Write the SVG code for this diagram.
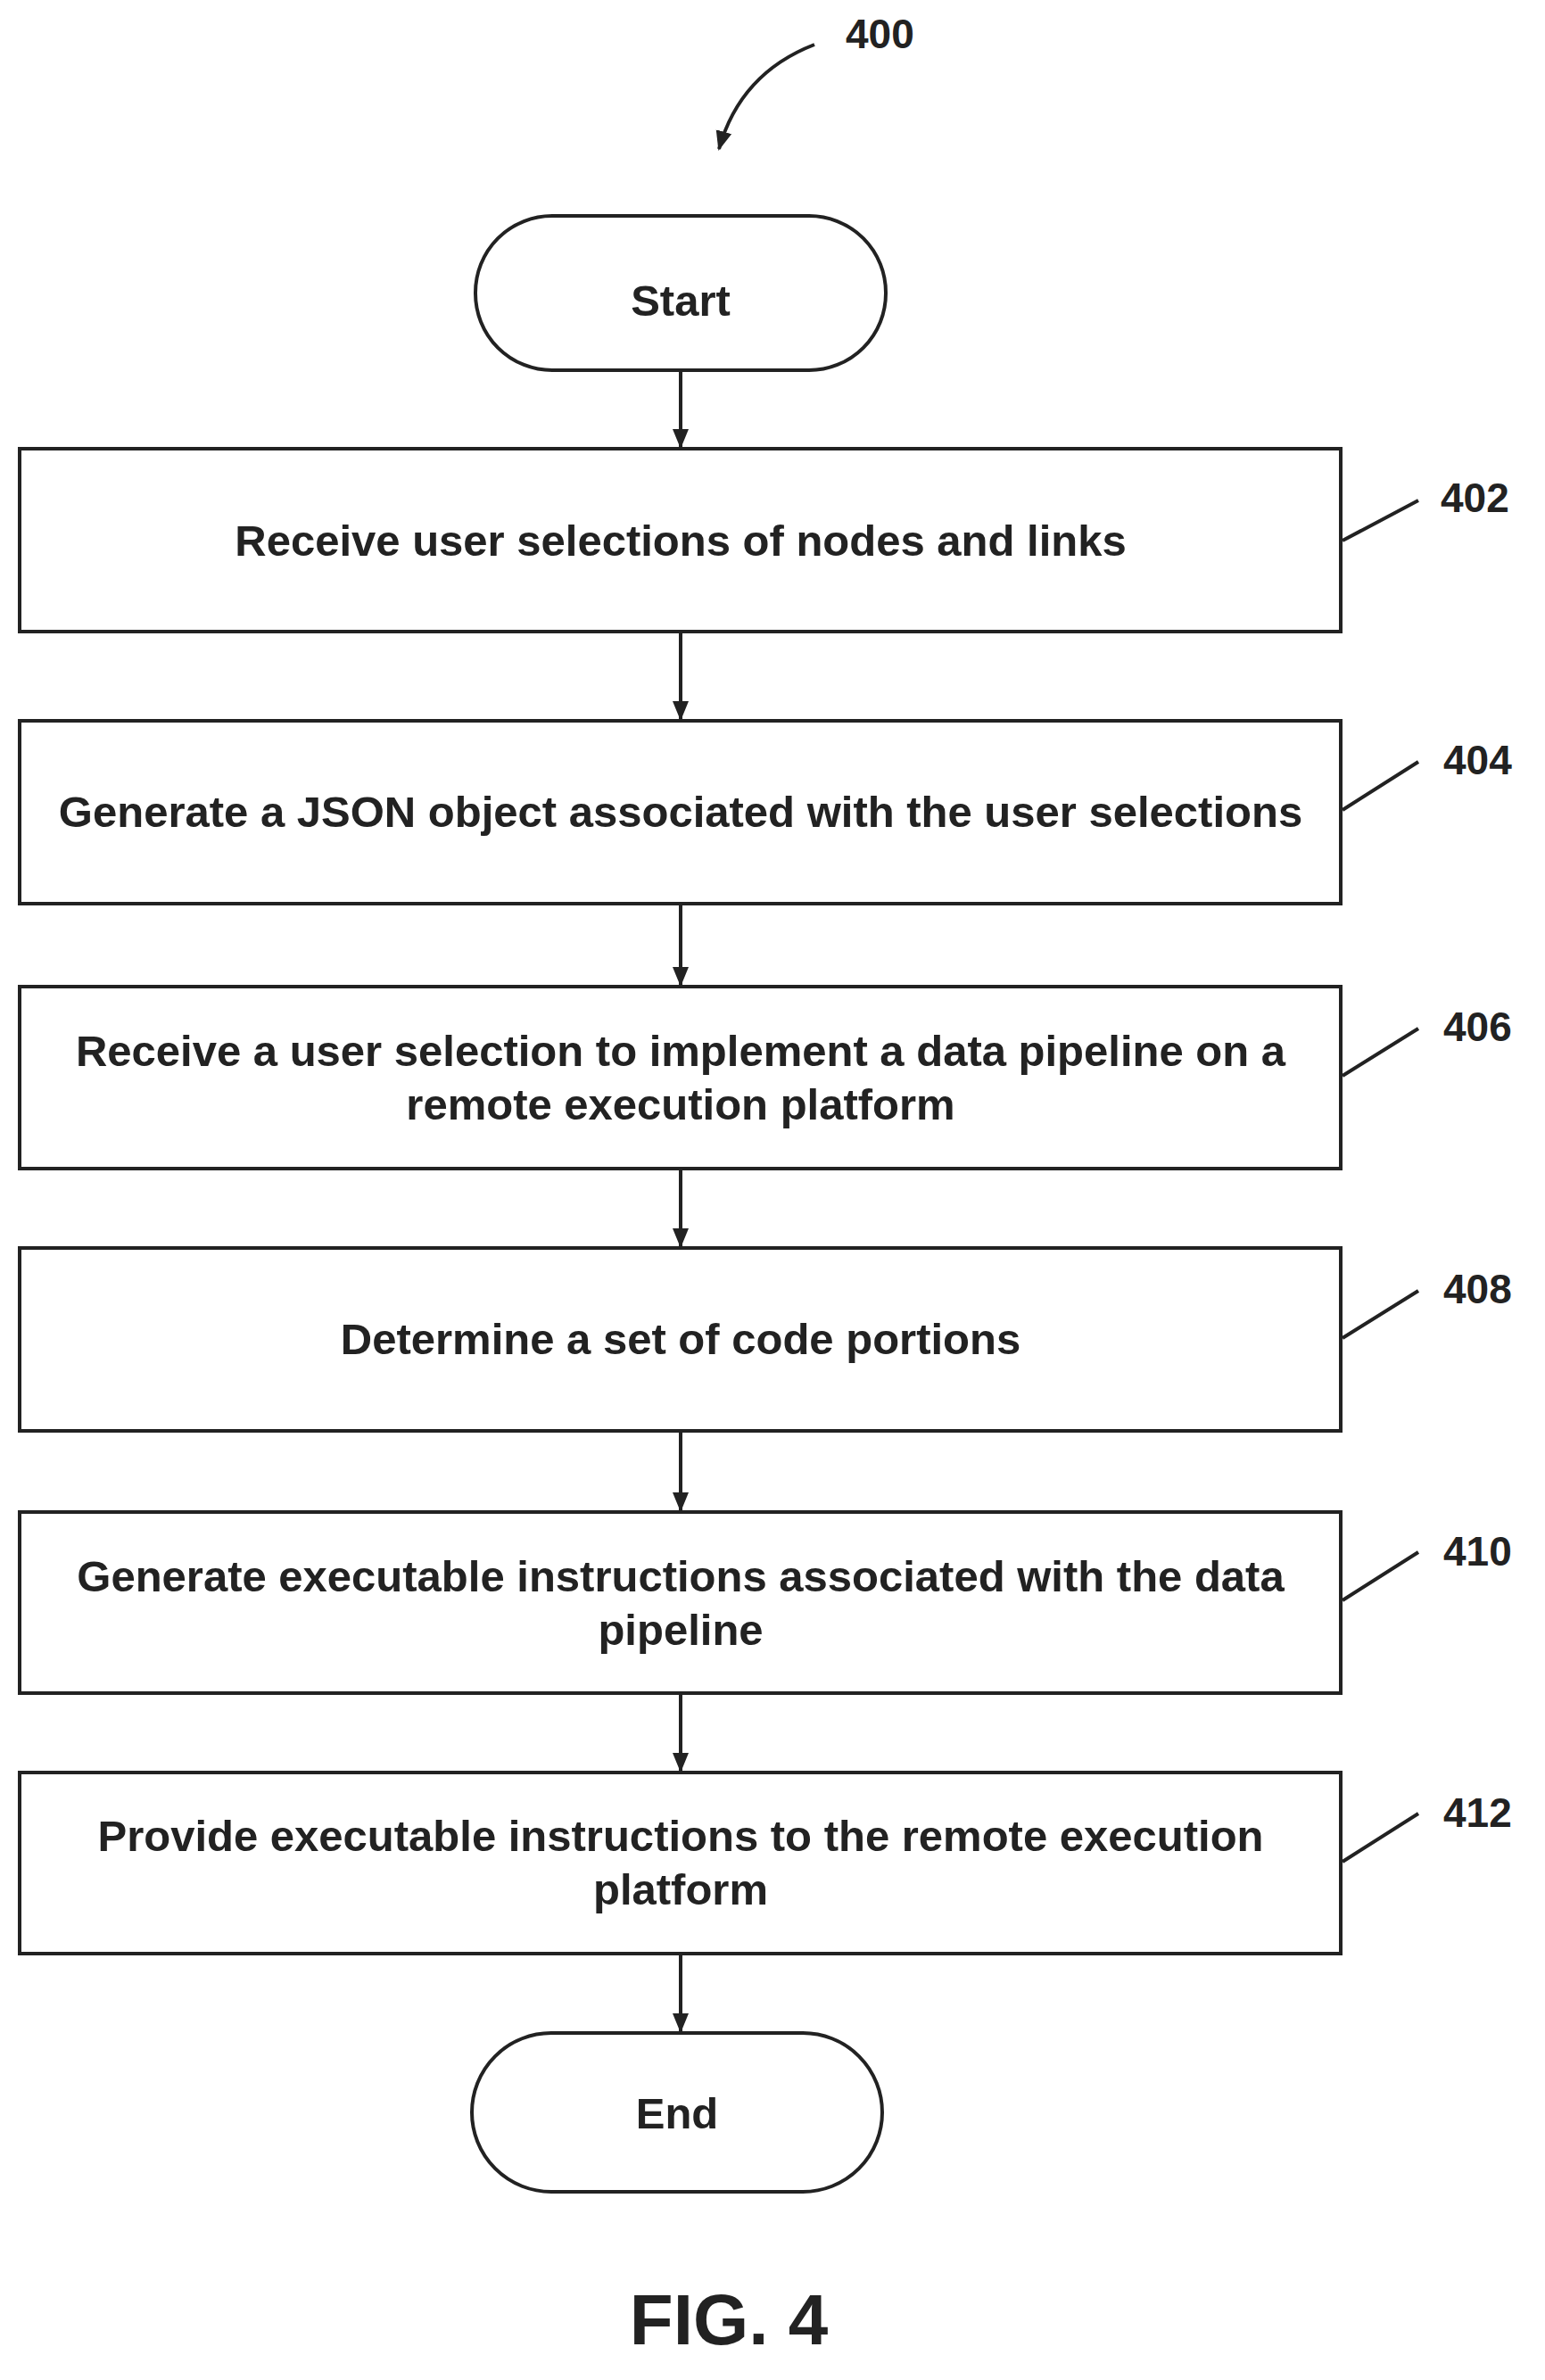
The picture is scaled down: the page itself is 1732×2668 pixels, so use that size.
<svg xmlns="http://www.w3.org/2000/svg" width="1732" height="2668" viewBox="0 0 1732 2668">
<style>
.b{fill:#fff;stroke:#222;stroke-width:4}
.t{font-family:"Liberation Sans",Arial,sans-serif;font-weight:bold;font-size:49px;fill:#222;text-anchor:middle}
.l{font-family:"Liberation Sans",Arial,sans-serif;font-weight:bold;font-size:46px;fill:#222}
.c{stroke:#222;stroke-width:4;fill:none}
</style>
<defs><marker id="h" markerWidth="22" markerHeight="22" refX="20" refY="11" orient="auto" markerUnits="userSpaceOnUse"><path d="M0,2L22,11L0,20z" fill="#222"/></marker></defs>
<g id="ref400"><text class="l" x="948" y="54">400</text><path class="c" d="M913,50 Q830,82 806,167" marker-end="url(#h)"/></g>
<g id="start"><rect class="b" x="533" y="242" width="460" height="173" rx="86"/><text class="t" x="763" y="354">Start</text></g>
<g id="n402"><rect class="b" x="22" y="503" width="1481" height="205"/><text class="t" x="763" y="623">Receive user selections of nodes and links</text><text class="l" x="1615" y="574">402</text></g>
<g id="n404"><rect class="b" x="22" y="808" width="1481" height="205"/><text class="t" x="763" y="927">Generate a JSON object associated with the user selections</text><text class="l" x="1618" y="868">404</text></g>
<g id="n406"><rect class="b" x="22" y="1106" width="1481" height="204"/><text class="t" x="763" y="1195">Receive a user selection to implement a data pipeline on a</text><text class="t" x="763" y="1255">remote execution platform</text><text class="l" x="1618" y="1167">406</text></g>
<g id="n408"><rect class="b" x="22" y="1399" width="1481" height="205"/><text class="t" x="763" y="1518">Determine a set of code portions</text><text class="l" x="1618" y="1461">408</text></g>
<g id="n410"><rect class="b" x="22" y="1695" width="1481" height="203"/><text class="t" x="763" y="1784">Generate executable instructions associated with the data</text><text class="t" x="763" y="1844">pipeline</text><text class="l" x="1618" y="1755">410</text></g>
<g id="n412"><rect class="b" x="22" y="1987" width="1481" height="203"/><text class="t" x="763" y="2075">Provide executable instructions to the remote execution</text><text class="t" x="763" y="2135">platform</text><text class="l" x="1618" y="2048">412</text></g>
<g id="end"><rect class="b" x="529" y="2279" width="460" height="178" rx="89"/><text class="t" x="759" y="2386">End</text></g>
<g id="connectors">
<line class="c" x1="763" y1="415" x2="763" y2="501" marker-end="url(#h)"/>
<line class="c" x1="763" y1="708" x2="763" y2="806" marker-end="url(#h)"/>
<line class="c" x1="763" y1="1013" x2="763" y2="1104" marker-end="url(#h)"/>
<line class="c" x1="763" y1="1310" x2="763" y2="1397" marker-end="url(#h)"/>
<line class="c" x1="763" y1="1604" x2="763" y2="1693" marker-end="url(#h)"/>
<line class="c" x1="763" y1="1898" x2="763" y2="1985" marker-end="url(#h)"/>
<line class="c" x1="763" y1="2190" x2="763" y2="2277" marker-end="url(#h)"/>
<path class="c" stroke-width="3" d="M1505,606L1590,561M1505,908L1590,854M1505,1206L1590,1153M1505,1500L1590,1447M1505,1794L1590,1740M1505,2087L1590,2033"/>
</g>
<text x="817" y="2628" style="font-family:'Liberation Sans',Arial,sans-serif;font-weight:bold;font-size:80px;fill:#222;text-anchor:middle">FIG. 4</text>
</svg>
